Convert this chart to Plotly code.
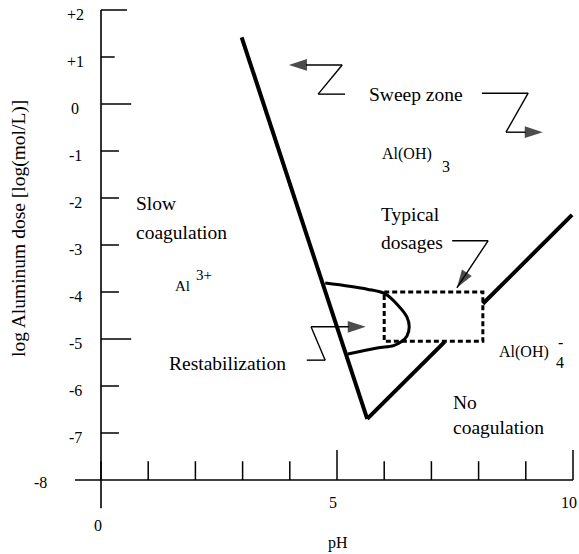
import plotly.graph_objects as go

# ---------------- data ----------------
x_tick_values = [0, 1, 2, 3, 4, 5, 6, 7, 8, 9, 10]
x_tick_labels = ['0', '5', '10']
x_tick_label_values = [0, 5, 10]
y_tick_values = [2, 1, 0, -1, -2, -3, -4, -5, -6, -7]
y_tick_labels = ['+2', '+1', '0', '-1', '-2', '-3', '-4', '-5', '-6', '-7']
y_origin_label = '-8'

left_boundary_ph = [2.98, 5.64]
left_boundary_dose = [1.42, -6.70]
right_lower_ph = [5.64, 7.28]
right_lower_dose = [-6.70, -5.06]
right_upper_ph = [8.09, 9.98]
right_upper_dose = [-4.25, -2.36]

restab_ph = [4.75, 5.64, 6.02, 6.29, 6.48, 6.53, 6.48, 6.36, 6.20, 5.85, 5.23]
restab_dose = [-3.81, -3.94, -4.04, -4.28, -4.53, -4.74, -4.94, -5.06, -5.14, -5.19, -5.32]

typical_ph = [6.0, 8.09, 8.09, 6.0, 6.0]
typical_dose = [-4.0, -4.0, -5.05, -5.05, -4.0]

sweep_left_arrow_ph = [5.17, 4.60, 5.11, 3.98]
sweep_left_arrow_dose = [0.21, 0.21, 0.83, 0.83]
sweep_right_arrow_ph = [8.07, 9.05, 8.58, 9.36]
sweep_right_arrow_dose = [0.23, 0.23, -0.60, -0.60]
typical_arrow_ph = [7.44, 8.20, 7.54]
typical_arrow_dose = [-2.91, -2.91, -3.91]
restab_arrow_ph = [4.36, 4.75, 4.45, 5.61]
restab_arrow_dose = [-5.45, -5.45, -4.74, -4.74]

# ---------------- figure ----------------
PX = 47.2   # px per pH unit
PY = 47.0   # px per log unit
W, H = 579, 554
X0_PX, Y0_PX = 101, 480
FONT = 'Liberation Serif, Times New Roman, serif'

fig = go.Figure()

def line(xs, ys, width, dash='solid', shape='linear'):
    fig.add_trace(go.Scatter(x=xs, y=ys, mode='lines',
                             line=dict(color='black', width=width, dash=dash, shape=shape),
                             hoverinfo='skip', showlegend=False))

def arrow(xs, ys):
    n = len(xs)
    fig.add_trace(go.Scatter(
        x=xs, y=ys, mode='lines+markers',
        line=dict(color='black', width=1.4),
        marker=dict(symbol=['circle'] * (n - 1) + ['arrow'],
                    size=[0] * (n - 1) + [19],
                    angleref='previous', color='black',
                    line=dict(width=0)),
        hoverinfo='skip', showlegend=False))

# axes
line([-0.55, 10.0], [-8, -8], 1.6)
line([0, 0], [2.0, -8.6], 1.6)
for v in x_tick_values:
    h = 0.64 if v in (5, 10) else 0.40
    line([v, v], [-8, -8 + h], 1.5)
for v in y_tick_values:
    L = {2: 0.55, 1: 0.29, 0: 0.64, -5: 0.64}.get(v, 0.38)
    line([0, L], [v, v], 1.5)

# boundaries
line(left_boundary_ph, left_boundary_dose, 4)
line(right_lower_ph, right_lower_dose, 4)
line(right_upper_ph, right_upper_dose, 4)
line(restab_ph, restab_dose, 3, shape='spline')
line(typical_ph, typical_dose, 3, dash='5px,3px')

# arrows
arrow(sweep_left_arrow_ph, sweep_left_arrow_dose)
arrow(sweep_right_arrow_ph, sweep_right_arrow_dose)
arrow(typical_arrow_ph, typical_arrow_dose)
arrow(restab_arrow_ph, restab_arrow_dose)

ann = []
def text(t, x, y, size, xanchor='left', angle=0):
    ann.append(dict(text=t, x=x, y=y, xref='x', yref='y', showarrow=False,
                    xanchor=xanchor, yanchor='middle', textangle=angle,
                    font=dict(family=FONT, size=size, color='black')))

# tick labels
for v, t in zip(y_tick_values, y_tick_labels):
    text(t, -0.55, v - 0.1, 16, xanchor='center')
text(y_origin_label, -1.29, -8.06, 16, xanchor='center')
text(x_tick_labels[0], x_tick_label_values[0] - 0.06, -8.96, 16, xanchor='center')
for v, t in zip(x_tick_label_values[1:], x_tick_labels[1:]):
    text(t, v - 0.08, -8.47, 16, xanchor='center')
text('pH', 5.02, -9.34, 16, xanchor='center')
text('log Aluminum dose [log(mol/L)]', -1.74, -2.64, 19.5, xanchor='center', angle=-90)

# region labels
text('Slow', 0.69, -2.11, 19.5)
text('coagulation', 0.69, -2.74, 19.5)
text('Al', 1.53, -3.87, 15)
text('3+', 1.98, -3.64, 15)
text('Sweep zone', 5.63, 0.21, 19.5)
text('Al(OH)', 5.92, -1.06, 16)
text('3', 7.19, -1.34, 16)
text('Typical', 5.88, -2.36, 19.5)
text('dosages', 5.88, -2.94, 19.5)
text('Restabilization', 1.39, -5.53, 19.5)
text('Al(OH)', 8.38, -5.28, 16)
text('-', 9.63, -5.08, 16)
text('4', 9.59, -5.51, 16)
text('No', 7.41, -6.36, 19.5)
text('coagulation', 7.41, -6.89, 19.5)

fig.update_layout(
    width=W, height=H, margin=dict(l=0, r=0, t=0, b=0),
    paper_bgcolor='white', plot_bgcolor='white',
    xaxis=dict(range=[-X0_PX / PX, (W - X0_PX) / PX], visible=False, fixedrange=True),
    yaxis=dict(range=[-8 - (H - Y0_PX) / PY, -8 + Y0_PX / PY], visible=False, fixedrange=True),
    annotations=ann, showlegend=False,
)

fig.write_html('out.html', config={'displayModeBar': False},
               post_script="document.body.style.margin='0';document.body.style.overflow='hidden';")
